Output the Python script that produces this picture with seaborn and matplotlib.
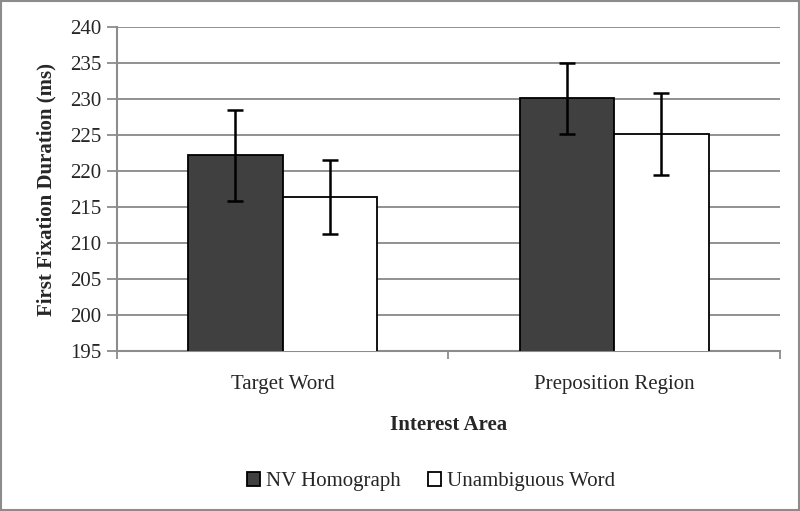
import matplotlib
matplotlib.use("Agg")
import matplotlib.pyplot as plt
import matplotlib.patches as mpatches
import pandas as pd
import seaborn as sns

areas = ["Target Word", "Preposition Region"]
conditions = ["NV Homograph", "Unambiguous Word"]
nv_means = [222.2, 230.1]
unamb_means = [216.4, 225.1]
nv_err = [6.3, 4.9]
unamb_err = [5.1, 5.7]
colors = ["#404040", "#ffffff"]

df = pd.DataFrame({
    "area": areas * 2,
    "cond": [conditions[0]] * 2 + [conditions[1]] * 2,
    "value": nv_means + unamb_means,
    "err": nv_err + unamb_err,
})

sns.set_style("white")
plt.rcParams["font.family"] = ["Liberation Serif", "DejaVu Serif"]

fig = plt.figure(figsize=(8, 5.11), dpi=100)
ax = fig.add_axes([0.146, 0.313, 0.829, 0.634])

sns.barplot(data=df, x="area", y="value", hue="cond", order=areas,
            hue_order=conditions, palette=colors, width=0.57,
            edgecolor="black", linewidth=1.3, errorbar=None, legend=False,
            ax=ax, zorder=3, saturation=1)

# error bars at bar centres
for cont, cond in zip(ax.containers, conditions):
    sub = df[df.cond == cond].set_index("area").loc[areas]
    xs = [p.get_x() + p.get_width() / 2 for p in cont.patches]
    ax.errorbar(xs, sub["value"], yerr=sub["err"], fmt="none",
                ecolor="black", elinewidth=1.8, capsize=6, capthick=1.8, zorder=4)

ax.set_ylim(195, 240)
ax.set_yticks(range(195, 241, 5))
ax.set_xlim(-0.5, 1.5)
ax.yaxis.grid(True, color="#909090", linewidth=1.4, zorder=0)
ax.set_axisbelow(True)

for s in ["top", "right"]:
    ax.spines[s].set_visible(False)
for s in ["left", "bottom"]:
    ax.spines[s].set_color("#8c8c8c")
    ax.spines[s].set_linewidth(1.5)

ax.tick_params(axis="y", length=7, width=1.3, color="#8c8c8c", labelsize=15,
               left=True, pad=4)
ax.tick_params(axis="x", which="major", length=0, labelsize=15, pad=17)
ax.set_xticks([-0.5, 0.5, 1.5], minor=True)
ax.tick_params(axis="x", which="minor", length=6, width=1.3, color="#8c8c8c", bottom=True)

ax.set_xlabel("Interest Area", fontsize=15, fontweight="bold", labelpad=15)
ax.set_ylabel("First Fixation Duration (ms)", fontsize=15, fontweight="bold", labelpad=10)

handles = [mpatches.Patch(facecolor=c, edgecolor="black", linewidth=1.3, label=l)
           for c, l in zip(colors, conditions)]
fig.legend(handles=handles, loc="center", bbox_to_anchor=(0.539, 0.057), ncol=2,
           frameon=False, fontsize=15, handlelength=0.6, handleheight=0.6,
           handletextpad=0.3, columnspacing=1.3)

fig.patches.append(mpatches.Rectangle((0.001, 0.001), 0.998, 0.997, transform=fig.transFigure,
                                      fill=False, edgecolor="#8c8c8c", linewidth=1.5))

fig.savefig("out.png", dpi=100)
